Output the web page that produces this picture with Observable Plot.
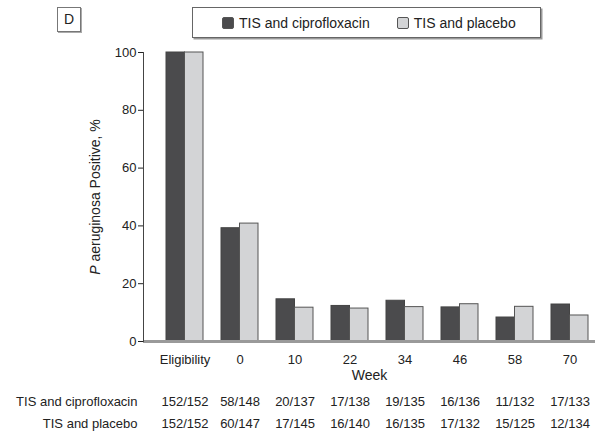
<!DOCTYPE html>
<html>
<head>
<meta charset="utf-8">
<script src="https://cdn.jsdelivr.net/npm/d3@7"></script>
<script src="https://cdn.jsdelivr.net/npm/@observablehq/plot@0.6"></script>
<style>
  html, body { margin: 0; padding: 0; background: #fff; }
  #wrap { position: relative; width: 595px; height: 439px; font-family: "Liberation Sans", Arial, sans-serif; color: #222; }
  #panel { position: absolute; left: 57px; top: 7px; width: 22px; height: 23px; border: 1.5px solid #777; box-shadow: 1px 1px 0 #aaa; font-size: 14px; line-height: 23px; text-align: center; }
  #legend { position: absolute; left: 192px; top: 7px; width: 347px; height: 29px; border: 1.5px solid #666; box-shadow: 1.5px 1.5px 0 #999; display: flex; align-items: center; font-size: 14px; white-space: nowrap; }
  .item { display: flex; align-items: center; }
  .sw { width: 10px; height: 10px; border: 1px solid #555; border-radius: 2px; margin-right: 5px; }
</style>
</head>
<body>
<div id="wrap">
  <div id="chart"></div>
  <div id="panel">D</div>
  <div id="legend"></div>
</div>
<script>
const weeks = ["Eligibility", "0", "10", "22", "34", "46", "58", "70"];
const seriesNames = ["TIS and ciprofloxacin", "TIS and placebo"];
const ciproValues = [100, 39.2, 14.6, 12.3, 14.1, 11.8, 8.3, 12.8];
const placeboValues = [100, 40.8, 11.7, 11.4, 11.9, 12.9, 12.0, 9.0];
const ciproCounts = ["152/152", "58/148", "20/137", "17/138", "19/135", "16/136", "11/132", "17/133"];
const placeboCounts = ["152/152", "60/147", "17/145", "16/140", "16/135", "17/132", "15/125", "12/134"];
const colors = ["#4b4b4d", "#d3d4d6"];
const yTitle = "P aeruginosa Positive, %";

const ciproData = weeks.map((w, i) => ({week: w, value: ciproValues[i]}));
const placeboData = weeks.map((w, i) => ({week: w, value: placeboValues[i]}));

const font = '"Liberation Sans", Arial, sans-serif';

const chart = Plot.plot({
  width: 595,
  height: 439,
  marginLeft: 143,
  marginRight: 0,
  marginTop: 52,
  marginBottom: 98,
  style: {fontFamily: font, fontSize: "13px", color: "#222", background: "transparent"},
  x: {domain: weeks, paddingInner: 0.333, paddingOuter: 0.239, align: 0.774, label: null},
  y: {domain: [0, 100], label: null},
  marks: [
    Plot.barY(ciproData, {x: "week", y: "value", fill: colors[0], stroke: "#444", strokeWidth: 1, insetRight: 18.5}),
    Plot.barY(placeboData, {x: "week", y: "value", fill: colors[1], stroke: "#555", strokeWidth: 1, insetLeft: 18.5}),
    Plot.ruleY([0], {stroke: "#9a9a9a", strokeWidth: 3}),
    Plot.frame({anchor: "left", stroke: "#444"}),
    Plot.axisY({ticks: [0, 20, 40, 60, 80, 100], tickSize: 5, tickPadding: 2, label: null, fontSize: 13}),
    Plot.axisX({tickSize: 0, tickPadding: 13, label: null, fontSize: 13}),
    Plot.text(["Week"], {text: d => d, frameAnchor: "bottom", dy: 38, fontSize: 14}),
    Plot.text(ciproData, {x: "week", text: (d, i) => ciproCounts[i], frameAnchor: "bottom", dy: 64, fontSize: 13}),
    Plot.text(placeboData, {x: "week", text: (d, i) => placeboCounts[i], frameAnchor: "bottom", dy: 86, fontSize: 13}),
    Plot.text([seriesNames[0]], {text: d => d, frameAnchor: "bottom-left", dx: -6, dy: 64, textAnchor: "end", fontSize: 13}),
    Plot.text([seriesNames[1]], {text: d => d, frameAnchor: "bottom-left", dx: -6, dy: 86, textAnchor: "end", fontSize: 13}),
    Plot.text([yTitle], {text: d => d, frameAnchor: "left", textAnchor: "middle", dx: -48, rotate: -90, fontSize: 14})
  ]
});
document.getElementById("chart").appendChild(chart);

// italicize the "P" in the y title
chart.querySelectorAll("text").forEach(t => {
  if (t.textContent === yTitle) {
    t.textContent = "";
    const a = document.createElementNS("http://www.w3.org/2000/svg", "tspan");
    a.setAttribute("font-style", "italic");
    a.textContent = "P";
    const b = document.createElementNS("http://www.w3.org/2000/svg", "tspan");
    b.textContent = yTitle.slice(1);
    t.appendChild(a); t.appendChild(b);
  }
});

const legend = document.getElementById("legend");
seriesNames.forEach((name, i) => {
  const item = document.createElement("div");
  item.className = "item";
  item.style.marginLeft = i === 0 ? "29px" : "27px";
  const sw = document.createElement("div");
  sw.className = "sw";
  sw.style.background = colors[i];
  const label = document.createElement("span");
  label.textContent = name;
  item.appendChild(sw); item.appendChild(label);
  legend.appendChild(item);
});
</script>
</body>
</html>
